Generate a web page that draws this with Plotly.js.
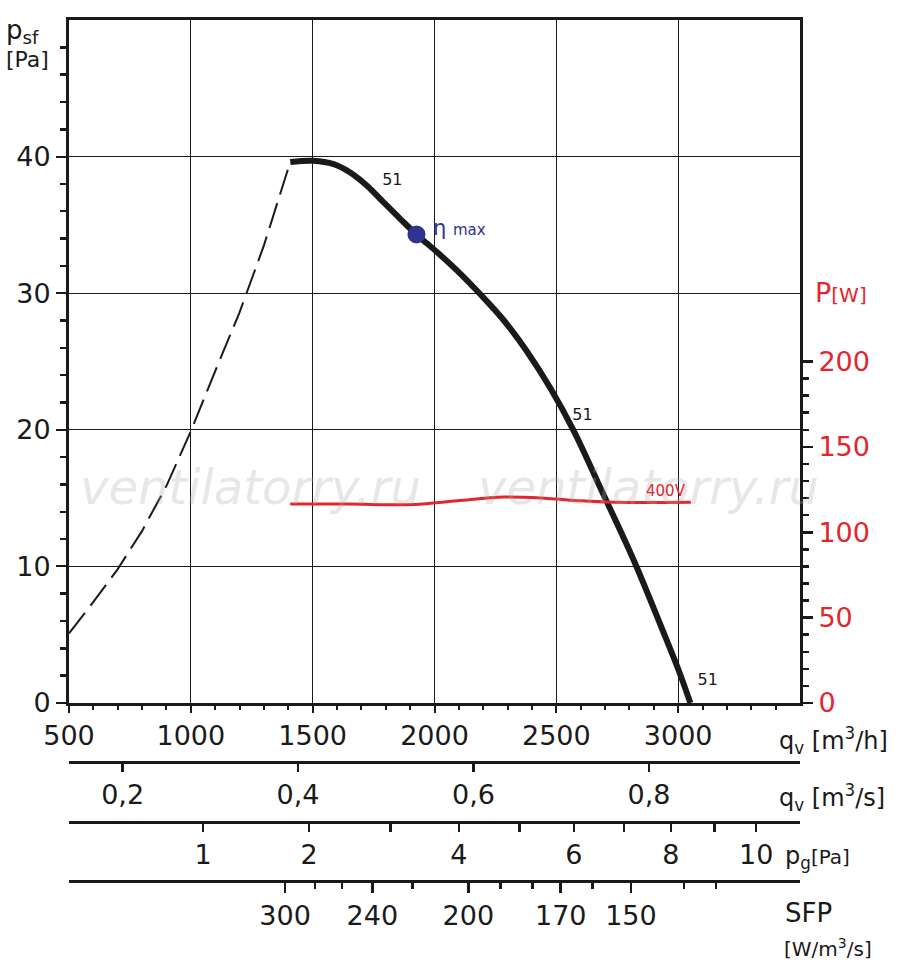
<!DOCTYPE html>
<html>
<head>
<meta charset="utf-8">
<script src="https://cdn.plot.ly/plotly-3.0.1.min.js"></script>
<style>
  body { margin: 0; background: #fff; }
  #myPlot { width: 900px; height: 970px; }
</style>
</head>
<body>
<div id="myPlot"></div>
<script>
// fan curve 51 (static pressure, Pa) vs airflow (m3/h)
let fanQ = [1408, 1503, 1586, 1654, 1723, 1791, 1860, 1926, 2011, 2093, 2189, 2285, 2381, 2477, 2572, 2682, 2819, 2930, 3002, 3050];
let fanP = [39.6, 39.7, 39.45, 38.84, 37.87, 36.65, 35.43, 34.3, 33.0, 31.65, 29.9, 28.0, 25.7, 23.0, 19.9, 15.7, 10.4, 5.6, 2.4, 0];

// unstable region (dashed)
let stallQ = [500, 600, 700, 800, 900, 1000, 1100, 1200, 1300, 1408];
let stallP = [5.1, 7.4, 9.8, 12.6, 15.9, 19.9, 24.3, 28.6, 33.5, 39.6];

// input power at 400V (W)
let powerQ = [1408, 1641, 1915, 2093, 2285, 2463, 2600, 2737, 3052];
let powerW = [116.5, 116.5, 116.2, 118.4, 120.6, 119.8, 118.4, 117.6, 117.6];

// best efficiency point
let etaQ = [1926];
let etaP = [34.3];

// curve labels
let curveLabelQ = [1827, 2607, 3121];
let curveLabelP = [38.2, 21.0, 1.6];

// extra scales
let qsTicks = [0.2, 0.4, 0.6, 0.8];
let qsText = ['0,2', '0,4', '0,6', '0,8'];
let pgTicks = [1, 2, 3, 4, 5, 6, 7, 8, 9, 10];
let pgText = ['1', '2', '', '4', '', '6', '', '8', '', '10'];
let sfpMajor = [300, 240, 200, 170, 150];
let sfpMajorQ = [1387, 1745, 2139, 2518, 2806];
let sfpMinor = [280, 260, 220, 190, 180, 160, 140, 130];
let sfpMinorQ = [1510, 1621, 1909, 2271, 2403, 2649, 3024, 3155];

// flow at p_g = 1 Pa (m3/h), p_g grows with q^2
let pgRef = 1050;

let F = 'DejaVu Sans, sans-serif';
let ink = '#1a1a1a';
let red = '#e3262d';
let blue = '#2d3590';

// plot frame in pixels
let L = 69, R = 800, T = 20, B = 881;
function px(x) { return (x - L) / (R - L); }
function py(y) { return (B - y) / (B - T); }

let minorQ = [];
for (let q = 600; q < 3500; q += 100) { if (q % 500 != 0) minorQ.push(q); }
let minorP = [];
for (let p = 2; p < 50; p += 2) { if (p % 10 != 0) minorP.push(p); }
let minorW = [];
for (let w = 10; w < 200; w += 10) { if (w % 50 != 0) minorW.push(w); }

var traceStall = {
  x: stallQ, y: stallP, mode: 'lines', type: 'scatter',
  line: { color: ink, width: 2, dash: '26px,9px' }
};
var tracePower = {
  x: powerQ, y: powerW, mode: 'lines', type: 'scatter', yaxis: 'y2',
  line: { color: red, width: 3, shape: 'spline', smoothing: 1 }
};
var traceFan = {
  x: fanQ, y: fanP, mode: 'lines', type: 'scatter',
  line: { color: ink, width: 6, shape: 'spline', smoothing: 1 }
};
var traceEta = {
  x: etaQ, y: etaP, mode: 'markers', type: 'scatter',
  marker: { color: blue, size: 18 }
};
var traceLabels = {
  x: curveLabelQ, y: curveLabelP, mode: 'text', type: 'scatter',
  text: ['51', '51', '51'], textfont: { family: F, size: 16, color: ink }
};
// empty traces so the extra scales get drawn
var scaleQs = { x: [], y: [], xaxis: 'x2', type: 'scatter', mode: 'lines' };
var scalePg = { x: [], y: [], xaxis: 'x3', type: 'scatter', mode: 'lines' };
var scaleSfp = { x: [], y: [], xaxis: 'x4', type: 'scatter', mode: 'lines' };

var data = [traceStall, tracePower, traceFan, traceEta, traceLabels, scaleQs, scalePg, scaleSfp];

function note(x, y, text, size, color, extra) {
  let a = {
    xref: 'paper', yref: 'paper', x: px(x), y: py(y), text: text,
    showarrow: false, xanchor: 'left', yanchor: 'middle',
    font: { family: F, size: size, color: color || ink }
  };
  return Object.assign(a, extra || {});
}

function scale(extra) {
  let a = {
    overlaying: 'x', anchor: 'free',
    ticks: 'outside', ticklen: 8, tickwidth: 2.5, tickcolor: ink,
    tickfont: { family: F, size: 27, color: ink },
    showgrid: false, showline: true, linecolor: ink, linewidth: 3,
    zeroline: false, fixedrange: true
  };
  return Object.assign(a, extra);
}

var wmFont = { family: F, size: 48, color: 'rgba(170,170,170,0.3)', style: 'italic' };

var layout = {
  width: 900,
  height: 970,
  margin: { l: L, r: 900 - R, t: T, b: 970 - B },
  paper_bgcolor: '#fff',
  plot_bgcolor: '#fff',
  showlegend: false,
  hovermode: false,
  font: { family: F, color: ink },
  xaxis: {
    range: [500, 3500], anchor: 'y',
    tickmode: 'array', tickvals: [500, 1000, 1500, 2000, 2500, 3000],
    ticks: 'outside', ticklen: 7, tickwidth: 2, tickcolor: ink,
    minor: { tickmode: 'array', tickvals: minorQ, ticks: 'outside', ticklen: 4, tickwidth: 2, tickcolor: ink },
    tickfont: { family: F, size: 27, color: ink },
    showgrid: true, gridcolor: ink, gridwidth: 1.3,
    showline: true, linecolor: ink, linewidth: 3, mirror: true,
    zeroline: false, fixedrange: true
  },
  yaxis: {
    domain: [py(703), 1], range: [0, 50],
    tickmode: 'array', tickvals: [0, 10, 20, 30, 40],
    ticks: 'outside', ticklen: 10, tickwidth: 2, tickcolor: ink,
    minor: { tickmode: 'array', tickvals: minorP, ticks: 'outside', ticklen: 6, tickwidth: 2.5, tickcolor: ink },
    tickfont: { family: F, size: 27, color: ink },
    showgrid: true, gridcolor: ink, gridwidth: 1.3,
    showline: true, linecolor: ink, linewidth: 3,
    zeroline: false, fixedrange: true
  },
  yaxis2: {
    overlaying: 'y', side: 'right', anchor: 'x', range: [0, 400],
    tickmode: 'array', tickvals: [0, 50, 100, 150, 200],
    ticks: 'outside', ticklen: 10, tickwidth: 2.5, tickcolor: ink,
    minor: { tickmode: 'array', tickvals: minorW, ticks: 'outside', ticklen: 6, tickwidth: 2.5, tickcolor: ink },
    tickfont: { family: F, size: 27, color: red },
    showgrid: false, showline: true, linecolor: ink, linewidth: 3,
    zeroline: false, fixedrange: true
  },
  xaxis2: scale({
    position: py(762), range: [500 / 3600, 3500 / 3600],
    tickmode: 'array', tickvals: qsTicks, ticktext: qsText
  }),
  xaxis3: scale({
    position: py(822), range: [500 / pgRef, 3500 / pgRef],
    tickmode: 'array', tickvals: pgTicks.map(Math.sqrt), ticktext: pgText
  }),
  xaxis4: scale({
    position: 0, range: [500, 3500], ticklen: 10,
    tickmode: 'array', tickvals: sfpMajorQ, ticktext: sfpMajor.map(String),
    minor: { tickmode: 'array', tickvals: sfpMinorQ, ticks: 'outside', ticklen: 6, tickwidth: 2.5, tickcolor: ink }
  }),
  annotations: [
    note(250, 487, 'ventilatorry.ru', 48, null, { xanchor: 'center', font: wmFont }),
    note(648, 487, 'ventilatorry.ru', 48, null, { xanchor: 'center', font: wmFont }),
    note(4, 32, 'p<sub>sf</sub>', 26),
    note(4, 60, '[Pa]', 22),
    note(813, 293, 'P<span style="font-size:20px">[W]</span>', 27, red),
    note(431, 228, 'η <span style="font-size:15px">max</span>', 21, blue),
    note(644, 491, '400V', 15, red),
    note(777, 740, 'q<sub>v</sub> [m<sup>3</sup>/h]', 24),
    note(777, 797, 'q<sub>v</sub> [m<sup>3</sup>/s]', 24),
    note(783, 857, 'p<sub>g</sub><span style="font-size:20px">[Pa]</span>', 24),
    note(783, 913, 'SFP', 26),
    note(782, 948, '[W/m<sup>3</sup>/s]', 20)
  ]
};

Plotly.newPlot('myPlot', data, layout, { staticPlot: true });
</script>
</body>
</html>
